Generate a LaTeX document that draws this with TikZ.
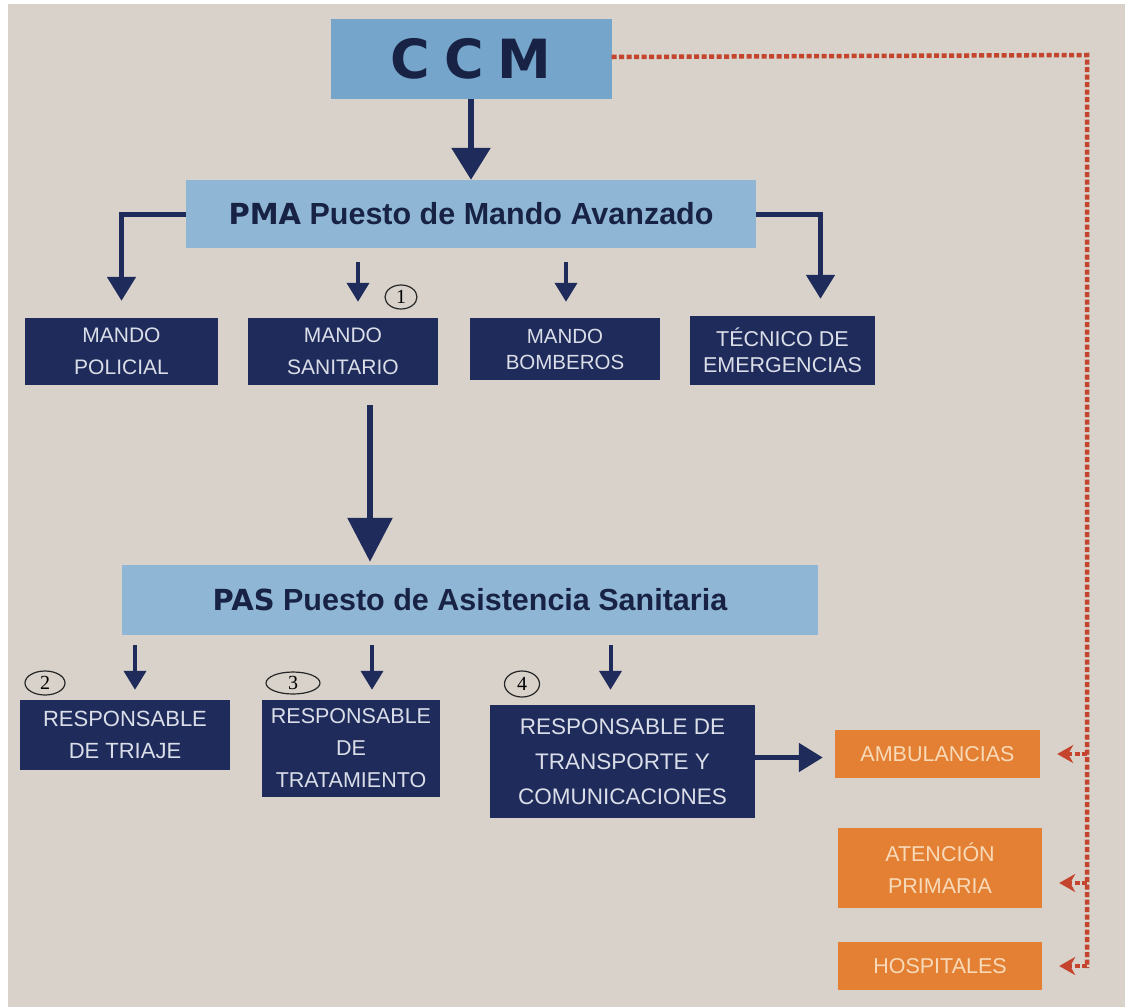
\documentclass[tikz,border=0pt]{standalone}
\usepackage{fontspec}
\setmainfont{Liberation Sans}
\newfontfamily\handfont{Liberation Serif}
\newfontfamily\heavyfont{DejaVu Sans}
\usetikzlibrary{arrows.meta,calc,shapes.geometric}
\definecolor{bg}{RGB}{216,210,202}
\definecolor{navy}{RGB}{31,43,91}
\definecolor{navytext}{RGB}{218,222,232}
\definecolor{ccmblue}{RGB}{118,165,203}
\definecolor{lblue}{RGB}{143,183,213}
\definecolor{darktext}{RGB}{24,34,68}
\definecolor{orangebox}{RGB}{228,128,52}
\definecolor{orangetext}{RGB}{248,218,184}
\definecolor{reddot}{RGB}{196,68,46}
\begin{document}
\begin{tikzpicture}[x=1pt,y=-1pt,
  navybox/.style={rectangle,fill=navy,text=navytext,font=\fontsize{21}{32}\selectfont,align=center,inner sep=0pt},
  bluebox/.style={rectangle,fill=lblue,text=darktext,font=\fontsize{30.5}{34}\selectfont\bfseries,inner sep=0pt},
  orbox/.style={rectangle,fill=orangebox,text=orangetext,font=\fontsize{21.5}{32}\selectfont,align=center,inner sep=0pt},
  circnum/.style={ellipse,draw=black!85,line width=1.2pt,inner sep=0pt,font=\handfont\fontsize{20}{20}\selectfont},
  arrbig/.style={draw=navy,line width=6pt,-{Triangle[width=38pt,length=32pt]}},
  arrmid/.style={draw=navy,line width=5pt,-{Triangle[width=28pt,length=24pt]}},
  arrsmall/.style={draw=navy,line width=4pt,-{Triangle[width=22pt,length=19pt]}},
  reddash/.style={draw=reddot,line width=4.5pt,dash pattern=on 5pt off 2.5pt},
  redarr/.style={reddash,-{Stealth[width=18pt,length=16pt,inset=5pt]}}
]
\useasboundingbox (0,0) rectangle (1125,1007);
\fill[white] (0,0) rectangle (1125,1007);
\fill[bg] (8,4) rectangle (1125,1007);

% top
\node[rectangle,fill=ccmblue,text=darktext,inner sep=0pt,minimum width=281pt,minimum height=80pt,
  font=\heavyfont\fontsize{54}{60}\selectfont\bfseries] (ccm) at (471,59) {C\hspace{14pt}C\hspace{14pt}M};
\node[bluebox,minimum width=570pt,minimum height=68pt] (pma) at (471,214)
  {{\heavyfont\fontsize{29}{34}\selectfont PMA} Puesto de Mando Avanzado};

% row 1
\node[navybox,minimum width=193pt,minimum height=67pt] (policial) at (121.5,351.5) {MANDO\\POLICIAL};
\node[navybox,minimum width=190pt,minimum height=67pt] (sanitario) at (343,351.5) {MANDO\\SANITARIO};
\node[navybox,minimum width=190pt,minimum height=62pt,font=\fontsize{20.5}{26}\selectfont] (bomberos) at (565,349) {MANDO\\BOMBEROS};
\node[navybox,minimum width=185pt,minimum height=69pt,font=\fontsize{21.5}{26}\selectfont] (tecnico) at (782.5,350.5) {TÉCNICO DE\\EMERGENCIAS};

% PAS
\node[bluebox,minimum width=696pt,minimum height=70pt] (pas) at (470,600)
  {{\heavyfont\fontsize{29}{34}\selectfont PAS} Puesto de Asistencia Sanitaria};

% row 2
\node[navybox,minimum width=210pt,minimum height=70pt,font=\fontsize{22}{32}\selectfont] (triaje) at (125,735) {RESPONSABLE\\DE TRIAJE};
\node[navybox,minimum width=178pt,minimum height=97pt,font=\fontsize{21.5}{32}\selectfont] (tratamiento) at (351,748.5) {RESPONSABLE\\DE\\TRATAMIENTO};
\node[navybox,minimum width=265pt,minimum height=113pt,font=\fontsize{22.5}{35}\selectfont] (transporte) at (622.5,761.5) {RESPONSABLE DE\\TRANSPORTE Y\\COMUNICACIONES};

% orange
\node[orbox,minimum width=205pt,minimum height=48pt] (ambulancias) at (937.5,754) {AMBULANCIAS};
\node[orbox,minimum width=204pt,minimum height=80pt] (atencion) at (940,868) {ATENCIÓN\\PRIMARIA};
\node[orbox,minimum width=204pt,minimum height=48pt] (hospitales) at (940,966) {HOSPITALES};

% circled numbers
\node[circnum,minimum width=32pt,minimum height=24pt] (c1) at (401,297) {1};
\node[circnum,minimum width=40pt,minimum height=24pt] (c2) at (45,683) {2};
\node[circnum,minimum width=54pt,minimum height=22pt] (c3) at (293,683) {3};
\node[circnum,minimum width=35pt,minimum height=26pt] (c4) at (522,684) {4};

% navy connectors
\draw[arrbig] (ccm.south) -- (pma.north);
\draw[arrmid] (pma.west) -| ($(policial.north)+(0,-17)$);
\draw[arrmid] (pma.east) -| ($(tecnico.north)+(38,-17)$);
\draw[arrsmall] ($(sanitario.north |- pma.south)+(15,14)$) -- ($(sanitario.north)+(15,-16)$);
\draw[arrsmall] ($(bomberos.north |- pma.south)+(1,14)$) -- ($(bomberos.north)+(1,-16)$);
\draw[arrbig,-{Triangle[width=44pt,length=44pt]}] ($(sanitario.south)+(27,20)$) -- ($(sanitario.south |- pas.north)+(27,-3)$);
\draw[arrsmall] ($(triaje.north |- pas.south)+(10,10)$) -- ($(triaje.north)+(10,-10)$);
\draw[arrsmall] ($(tratamiento.north |- pas.south)+(21,10)$) -- ($(tratamiento.north)+(21,-10)$);
\draw[arrsmall] ($(transporte.north |- pas.south)+(-12,10)$) -- ($(transporte.north)+(-12,-15)$);
\draw[arrmid] ($(transporte.east)+(0,-4)$) -- ($(ambulancias.west |- transporte.east)+(-12,-4)$);

% red dotted
\coordinate (rc) at (1087,55);
\coordinate (rb) at (1087,968);
\draw[reddash] ($(ccm.east)+(0,-2)$) -- (rc) -- (rb);
\draw[redarr] (rb |- ambulancias.east) -- ($(ambulancias.east)+(17,0)$);
\draw[redarr] ($(rb |- atencion.east)+(0,15)$) -- ($(atencion.east)+(17,15)$);
\draw[redarr] (rb |- hospitales.east) -- ($(hospitales.east)+(17,0)$);
\end{tikzpicture}
\end{document}
